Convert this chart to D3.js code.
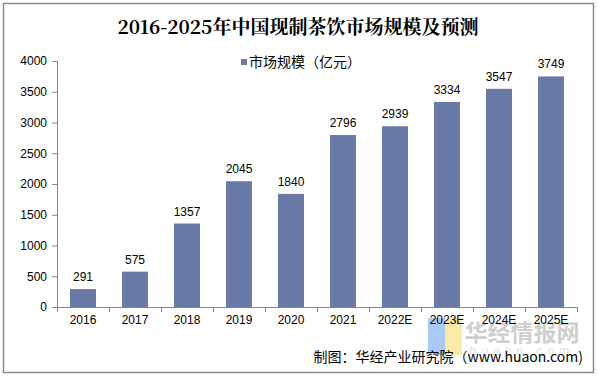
<!DOCTYPE html>
<html><head><meta charset="utf-8">
<script src="https://cdn.jsdelivr.net/npm/d3@7"></script>
<style>body{margin:0;background:#fff}svg{display:block}</style>
</head><body><svg id="c" width="598" height="378"></svg>
<script>
const categories = ["2016","2017","2018","2019","2020","2021","2022E","2023E","2024E","2025E"];
const values = [291,575,1357,2045,1840,2796,2939,3334,3547,3749];
const yTicks = [0,500,1000,1500,2000,2500,3000,3500,4000];
const title = "2016-2025年中国现制茶饮市场规模及预测";
const seriesName = "市场规模（亿元）";
const source = "制图：华经产业研究院（www.huaon.com)";

const svg = d3.select("#c");
const font = "'Liberation Sans', Arial, 'Noto Sans CJK SC', sans-serif";
const barColor = "#6779a4";
svg.append("rect").attr("x",3.5).attr("y",3.5).attr("width",590).attr("height",369)
  .attr("fill","#fff").attr("stroke","#8c8c8c").attr("stroke-width",1.5);

const x = d3.scaleBand().domain(categories).range([57,577]).paddingInner(0.5).paddingOuter(0.25);
const y = d3.scaleLinear().domain([0,4000]).range([307,61]);

// watermark (logo)
svg.append("rect").attr("x",428).attr("y",318).attr("width",17).attr("height",37).attr("fill","#a9c9f7");
svg.append("rect").attr("x",445).attr("y",318).attr("width",17).attr("height",37).attr("fill","#fbeaa6");
svg.append("text").attr("x",522).attr("y",341).attr("text-anchor","middle")
  .attr("font-family","'Noto Sans CJK SC', sans-serif").attr("font-weight","bold").attr("font-size",23)
  .attr("fill","#cfcfcf").text("华经情报网");
svg.append("text").attr("x",522).attr("y",355).attr("text-anchor","middle")
  .attr("font-family",font).attr("font-size",12).attr("letter-spacing",5)
  .attr("fill","#e4e4e4").text("huaon.com");

// bars
svg.selectAll("rect.bar").data(values).enter().append("rect").attr("class","bar")
  .attr("x",(d,i)=>x(categories[i])).attr("width",x.bandwidth())
  .attr("y",d=>y(d)).attr("height",d=>y(0)-y(d)).attr("fill",barColor);
svg.selectAll("text.lbl").data(values).enter().append("text").attr("class","lbl")
  .attr("x",(d,i)=>x(categories[i])+x.bandwidth()/2).attr("y",d=>y(d)-8)
  .attr("text-anchor","middle").attr("font-family",font).attr("font-size",12).attr("fill","#000").text(d=>d);

// y axis
const ya = svg.append("g").attr("transform","translate(57,0)")
  .call(d3.axisLeft(y).tickValues(yTicks).tickSize(5).tickPadding(5).tickFormat(d3.format("d")));
ya.select(".domain").attr("stroke","#868686").attr("d","M-5,61.5H0.5V307");
ya.selectAll(".tick line").attr("stroke","#868686");
ya.selectAll("text").attr("font-family",font).attr("font-size",12).attr("fill","#000");

// x axis
const xa = svg.append("g").attr("transform","translate(0,307)")
  .call(d3.axisBottom(x).tickSize(0).tickPadding(8));
xa.select(".domain").attr("stroke","#868686").attr("d","M57,0.5H577");
xa.selectAll("text").attr("font-family",font).attr("font-size",12).attr("fill","#000");
const step = x.step();
xa.selectAll("line.sep").data(d3.range(categories.length+1)).enter().append("line").attr("class","sep")
  .attr("x1",i=>57+i*step+0.5).attr("x2",i=>57+i*step+0.5).attr("y1",0).attr("y2",5).attr("stroke","#868686");

// title
svg.append("text").attr("x",298).attr("y",34).attr("text-anchor","middle")
  .attr("font-family","'Noto Serif CJK SC','Liberation Serif','Noto Sans CJK SC',serif").attr("font-weight","bold")
  .attr("font-size",19).attr("fill","#000").text(title);

// legend
svg.append("rect").attr("x",241).attr("y",59).attr("width",6).attr("height",6).attr("fill",barColor);
svg.append("text").attr("x",249).attr("y",67).attr("font-family","'Noto Sans CJK SC', sans-serif")
  .attr("font-size",14).attr("fill","#000").text(seriesName);

// source
svg.append("text").attr("x",583).attr("y",362).attr("text-anchor","end").attr("font-family","'Noto Sans CJK SC', sans-serif")
  .attr("font-size",14).attr("fill","#000").text(source);
</script></body></html>
